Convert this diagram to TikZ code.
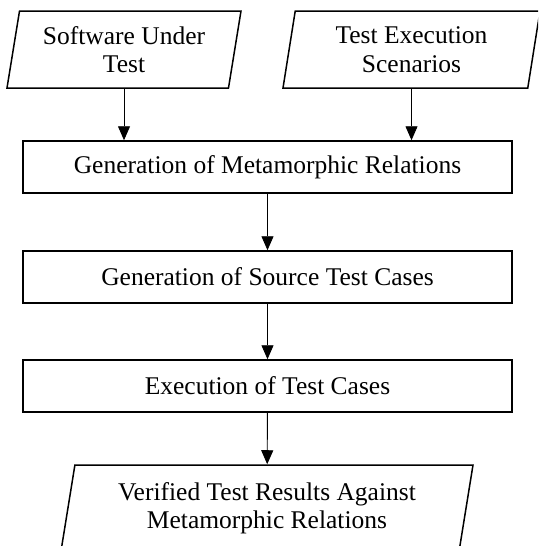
\documentclass[tikz,border=0pt]{standalone}
\usepackage{fontspec}
\setmainfont{Liberation Serif}
\usetikzlibrary{shapes.geometric,arrows.meta}

\tikzset{
	io/.style={draw, line width=1.5pt, trapezium, trapezium left angle=75, trapezium right angle=105, trapezium stretches body, align=center, inner sep=0pt},
	process/.style={draw, line width=1.5pt, rectangle, minimum width=489pt, minimum height=52pt, inner sep=0pt},
	arr/.style={line width=0.9pt, -{Triangle[width=12pt,length=14pt]}}
}

\begin{document}
\begin{tikzpicture}[x=1pt, y=-1pt, font=\fontsize{25.5}{28.5}\selectfont]

	\useasboundingbox (0,0) rectangle (538,546);
	\clip (0,0) rectangle (538,546);

	\node[io, minimum width=234pt, minimum height=77pt] (sut) at (124,49.5) {Software Under\\Test};
	\node[io, minimum width=257pt, minimum height=77pt] (tes) at (411.5,49.5) {Test Execution\\Scenarios};

	\node[process] (gmr) at (267.5,167) {Generation of Metamorphic Relations};
	\node[process] (gst) at (267.5,277) {Generation of Source Test Cases};
	\node[process] (etc) at (267.5,386) {Execution of Test Cases};

	\node[io, minimum width=412pt, minimum height=86pt] (vtr) at (267,508) {Verified Test Results Against\\Metamorphic Relations};

	\draw[arr] (sut.south) -- (sut.south |- gmr.north);
	\draw[arr] (tes.south) -- (tes.south |- gmr.north);
	\draw[arr] (gmr) -- (gst);
	\draw[arr] (gst) -- (etc);
	\draw[arr] (etc) -- (vtr);

\end{tikzpicture}
\end{document}
